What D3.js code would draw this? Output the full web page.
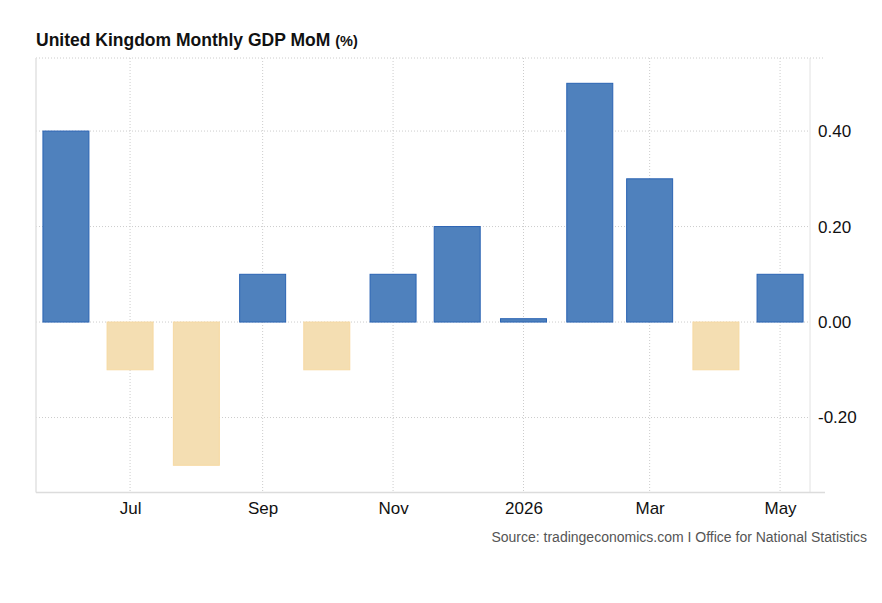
<!DOCTYPE html>
<html>
<head>
<meta charset="utf-8">
<script src="https://cdn.jsdelivr.net/npm/d3@7"></script>
<style>
  body { margin: 0; background: #fff; }
  text { font-family: "Liberation Sans", Arial, Helvetica, sans-serif; }
</style>
</head>
<body>
<svg></svg>
<script>
// Data
const months = ["2025-06", "2025-07", "2025-08", "2025-09", "2025-10", "2025-11",
                "2025-12", "2026-01", "2026-02", "2026-03", "2026-04", "2026-05"];
const gdpMoM = [0.4, -0.1, -0.3, 0.1, -0.1, 0.1, 0.2, 0.007, 0.5, 0.3, -0.1, 0.1];
const xTickMonths = ["2025-07", "2025-09", "2025-11", "2026-01", "2026-03", "2026-05"];
const xTickLabels = ["Jul", "Sep", "Nov", "2026", "Mar", "May"];
const yTicks = [-0.2, 0, 0.2, 0.4];

const width = 882, height = 603;
const plot = { left: 36, right: 810, top: 58, bottom: 492.5 };
const parseMonth = d3.timeParse("%Y-%m");

const svg = d3.select("svg").attr("width", width).attr("height", height);

// Scales
const xScale = d3.scaleTime()
    .domain([new Date(2025, 4, 18), new Date(2026, 4, 15)])
    .range([plot.left, plot.right]);
const yScale = d3.scaleLinear().domain([-0.357, 0.553]).range([plot.bottom, plot.top]);

const data = months.map((m, i) => ({ date: parseMonth(m), value: gdpMoM[i] }));
const barWidth = 46;

// Title
const title = svg.append("text").attr("x", 36).attr("y", 46)
    .attr("font-size", 17.5).attr("font-weight", "bold").attr("fill", "#111");
title.append("tspan").text("United Kingdom Monthly GDP MoM");
title.append("tspan").attr("font-size", 14.5).attr("dx", 5).text("(%)");

// Grid: horizontal dotted
svg.append("g").selectAll("line")
    .data(yTicks)
    .enter().append("line")
    .attr("x1", plot.left).attr("x2", plot.right)
    .attr("y1", d => yScale(d)).attr("y2", d => yScale(d))
    .attr("stroke", "#ccc").attr("stroke-dasharray", "1,2");

// top dotted border
svg.append("line")
    .attr("x1", plot.left).attr("x2", plot.right + 14)
    .attr("y1", plot.top).attr("y2", plot.top)
    .attr("stroke", "#ccc").attr("stroke-dasharray", "1,2");

// Grid: vertical dotted at x ticks
const tickDates = xTickMonths.map(parseMonth);
svg.append("g").selectAll("line")
    .data(tickDates)
    .enter().append("line")
    .attr("x1", d => xScale(d)).attr("x2", d => xScale(d))
    .attr("y1", plot.top).attr("y2", plot.bottom)
    .attr("stroke", "#ccc").attr("stroke-dasharray", "1,2");

// Bars
svg.append("g").selectAll("rect")
    .data(data)
    .enter().append("rect")
    .attr("x", d => xScale(d.date) - barWidth / 2)
    .attr("width", barWidth)
    .attr("y", d => yScale(Math.max(0, d.value)))
    .attr("height", d => Math.abs(yScale(d.value) - yScale(0)))
    .attr("fill", d => d.value >= 0 ? "#4f81bd" : "#f4deb2")
    .attr("stroke", d => d.value >= 0 ? "#2a63b3" : "#f6d9a2")
    .attr("stroke-width", 1);

// Frame: left, right, bottom solid lines
svg.append("line")
    .attr("x1", plot.left).attr("x2", plot.left)
    .attr("y1", plot.top).attr("y2", plot.bottom)
    .attr("stroke", "#e2e2e2").attr("stroke-width", 1.5);
svg.append("line")
    .attr("x1", plot.right).attr("x2", plot.right)
    .attr("y1", plot.top).attr("y2", plot.bottom)
    .attr("stroke", "#e2e2e2").attr("stroke-width", 1);
svg.append("line")
    .attr("x1", plot.left).attr("x2", plot.right + 15)
    .attr("y1", plot.bottom).attr("y2", plot.bottom)
    .attr("stroke", "#dcdcdc").attr("stroke-width", 1.5);

// X axis
const xAxis = svg.append("g")
    .attr("transform", `translate(0,${plot.bottom})`)
    .call(d3.axisBottom(xScale).tickValues(tickDates)
        .tickFormat((d, i) => xTickLabels[i]).tickSize(0).tickPadding(9));
xAxis.select(".domain").remove();
xAxis.selectAll("text").attr("font-size", 17).attr("fill", "#111")
    .attr("font-family", "'Liberation Sans', Arial, sans-serif");

// Y axis (right), plain hyphen for negatives
const yAxis = svg.append("g")
    .attr("transform", `translate(${plot.right},0)`)
    .call(d3.axisRight(yScale).tickValues(yTicks)
        .tickFormat(d => d.toFixed(2)).tickSize(0).tickPadding(8));
yAxis.select(".domain").remove();
yAxis.selectAll("text").attr("font-size", 17).attr("fill", "#111")
    .attr("font-family", "'Liberation Sans', Arial, sans-serif");

// Source
svg.append("text")
    .attr("x", 867).attr("y", 542)
    .attr("text-anchor", "end")
    .attr("font-size", 14).attr("fill", "#555")
    .text("Source: tradingeconomics.com I Office for National Statistics");
</script>
</body>
</html>
